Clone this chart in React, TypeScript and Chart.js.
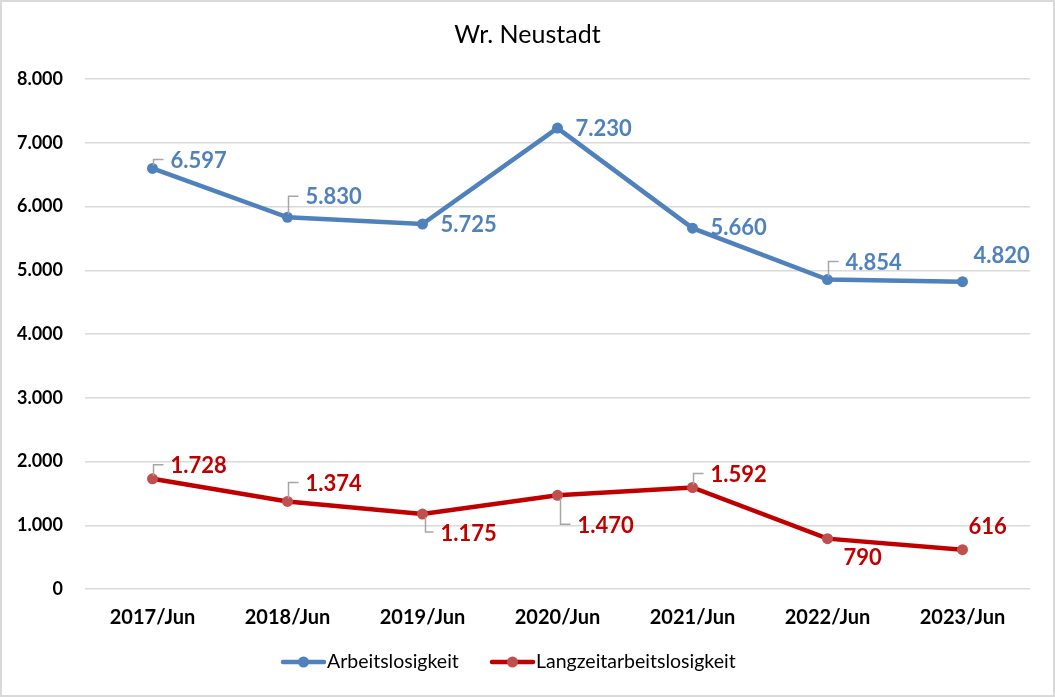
import React, { useEffect, useRef } from "react";
import { Chart, registerables } from "chart.js";

Chart.register(...registerables);

const title = "Wr. Neustadt";
const categories = ["2017/Jun", "2018/Jun", "2019/Jun", "2020/Jun", "2021/Jun", "2022/Jun", "2023/Jun"];
const seriesNames = ["Arbeitslosigkeit", "Langzeitarbeitslosigkeit"];
const arbeitslosigkeit = [6597, 5830, 5725, 7230, 5660, 4854, 4820];
const langzeit = [1728, 1374, 1175, 1470, 1592, 790, 616];
const yTicks = [0, 1000, 2000, 3000, 4000, 5000, 6000, 7000, 8000];

// Label placement per point: [dx to text left, dy to text middle, leader: 0 none, 1 up, -1 down]
const blueLabelPos = [
  [18, -8, 1], [18, -20, 1], [18, 1, 0], [18, 1, 0], [18, 0, 0], [18, -17, 1], [11, -26, 0],
];
const redLabelPos = [
  [18, -13, 1], [18, -18, 1], [18, 20, -1], [20, 31, -1], [18, -13, 1], [16, 19, 0], [6, -23, 0],
];

const BLUE = "#4F81BD";
const RED_LINE = "#C00000";
const RED_MARK = "#C0504D";
const FONT = "Lato, 'Noto Sans', sans-serif";

function fmt(v: number): string {
  const s = Math.round(v).toString();
  return s.replace(/\B(?=(\d{3})+(?!\d))/g, ".");
}

const decorPlugin = {
  id: "decor",
  afterDraw(chart: any) {
    const ctx = chart.ctx as CanvasRenderingContext2D;
    ctx.save();
    // outer frame
    ctx.strokeStyle = "#D9D9D9";
    ctx.lineWidth = 2;
    ctx.strokeRect(1, 1, chart.width - 2, chart.height - 2);

    // title
    ctx.fillStyle = "#000";
    ctx.font = `25px ${FONT}`;
    ctx.textAlign = "center";
    ctx.textBaseline = "middle";
    ctx.fillText(title, chart.width / 2, 35);

    // data labels with leader lines
    const sets = [
      { pos: blueLabelPos, color: BLUE },
      { pos: redLabelPos, color: RED_LINE },
    ];
    sets.forEach((s, di) => {
      const meta = chart.getDatasetMeta(di);
      const data = chart.data.datasets[di].data as number[];
      meta.data.forEach((pt: any, i: number) => {
        const [dx, dy, leader] = s.pos[i];
        const tx = pt.x + dx;
        const ty = pt.y + dy;
        if (leader !== 0) {
          ctx.strokeStyle = "#A6A6A6";
          ctx.lineWidth = 1.5;
          ctx.beginPath();
          const lx = pt.x + (leader > 0 ? 1 : 3);
          const ly = leader > 0 ? ty - 1 : ty - 2;
          ctx.moveTo(lx, pt.y + (leader > 0 ? -3 : 3));
          ctx.lineTo(lx, ly);
          ctx.lineTo(tx - 7, ly);
          ctx.stroke();
        }
        ctx.fillStyle = s.color;
        ctx.font = `bold 22px ${FONT}`;
        ctx.textAlign = "left";
        ctx.textBaseline = "middle";
        ctx.fillText(fmt(data[i]), tx, ty);
      });
    });

    // legend
    const items = [
      { x: 283, line: BLUE, mark: BLUE, text: seriesNames[0] },
      { x: 492, line: RED_LINE, mark: RED_MARK, text: seriesNames[1] },
    ];
    const ly = 662;
    items.forEach((it) => {
      ctx.strokeStyle = it.line;
      ctx.lineWidth = 4.5;
      ctx.lineCap = "round";
      ctx.beginPath();
      ctx.moveTo(it.x, ly);
      ctx.lineTo(it.x + 41, ly);
      ctx.stroke();
      ctx.fillStyle = it.mark;
      ctx.beginPath();
      ctx.arc(it.x + 20.5, ly, 5.5, 0, Math.PI * 2);
      ctx.fill();
      ctx.fillStyle = "#000";
      ctx.font = `19.5px ${FONT}`;
      ctx.textAlign = "left";
      ctx.textBaseline = "middle";
      ctx.fillText(it.text, it.x + 44, ly);
    });
    ctx.restore();
  },
};

export default function App() {
  const ref = useRef<HTMLCanvasElement>(null);
  useEffect(() => {
    if (!ref.current) return;
    const chart = new Chart(ref.current, {
      type: "line",
      data: {
        labels: categories,
        datasets: [
          {
            label: seriesNames[0],
            data: arbeitslosigkeit,
            borderColor: BLUE,
            backgroundColor: BLUE,
            borderWidth: 4.5,
            pointRadius: 5.5,
            pointBackgroundColor: BLUE,
            pointBorderWidth: 0,
            tension: 0,
          },
          {
            label: seriesNames[1],
            data: langzeit,
            borderColor: RED_LINE,
            backgroundColor: RED_MARK,
            borderWidth: 4.5,
            pointRadius: 5.5,
            pointBackgroundColor: RED_MARK,
            pointBorderWidth: 0,
            tension: 0,
          },
        ],
      },
      options: {
        responsive: false,
        animation: false,
        layout: { padding: { top: 79, left: 0, right: 25, bottom: 58 } },
        plugins: {
          legend: { display: false },
          title: { display: false },
          tooltip: { enabled: false },
        },
        scales: {
          x: {
            offset: true,
            grid: { display: false, drawTicks: false },
            border: { display: false },
            ticks: {
              color: "#000",
              font: { family: FONT, size: 20, weight: "bold" },
              padding: 17,
              maxRotation: 0,
            },
            afterFit: (s: any) => {
              s.height = 50;
            },
          },
          y: {
            min: 0,
            max: 8000,
            afterBuildTicks: (s: any) => {
              s.ticks = yTicks.map((v) => ({ value: v }));
            },
            grid: { color: "#D9D9D9", lineWidth: 1.5, drawTicks: false },
            border: { display: false },
            ticks: {
              color: "#000",
              font: { family: FONT, size: 18, weight: "bold" },
              padding: 22,
              callback: (v: any) => fmt(Number(v)),
            },
            afterFit: (s: any) => {
              s.width = 85;
            },
          },
        },
      },
      plugins: [decorPlugin],
    });
    return () => chart.destroy();
  }, []);
  return (
    <div style={{ position: "fixed", left: 0, top: 0, width: 1055, height: 697, background: "#fff" }}>
      <canvas ref={ref} width={1055} height={697} style={{ width: 1055, height: 697 }} />
    </div>
  );
}
